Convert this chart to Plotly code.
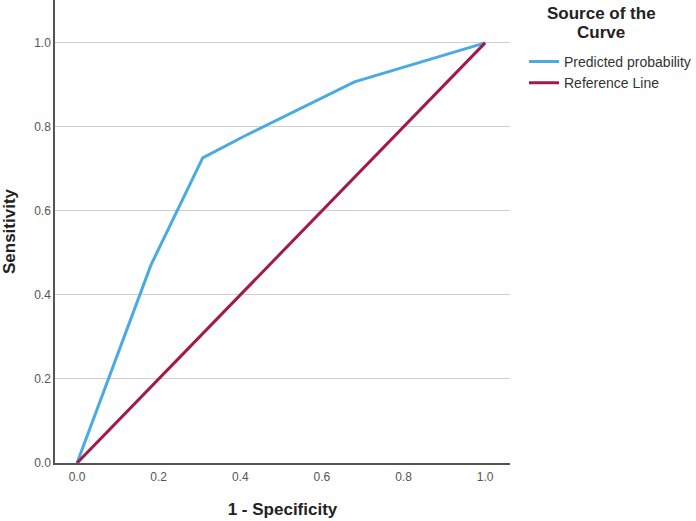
import plotly.graph_objects as go

# ROC data
fpr = [0.0, 0.181, 0.308, 0.406, 0.680, 1.0]
tpr = [0.0, 0.471, 0.726, 0.776, 0.907, 1.0]
ref_x = [0.0, 1.0]
ref_y = [0.0, 1.0]
tick_vals = [0.0, 0.2, 0.4, 0.6, 0.8, 1.0]
tick_text = ["0.0", "0.2", "0.4", "0.6", "0.8", "1.0"]

BLUE = "#4AAAE3"
RED = "#A21A4C"
FONT = "Arial, Liberation Sans, sans-serif"

fig = go.Figure()
fig.add_trace(go.Scatter(x=fpr, y=tpr, mode="lines", name="Predicted probability",
                         line=dict(color=BLUE, width=3)))
fig.add_trace(go.Scatter(x=ref_x, y=ref_y, mode="lines", name="Reference Line",
                         line=dict(color=RED, width=3)))

fig.update_layout(
    width=696, height=521,
    margin=dict(l=55, r=185, t=0, b=58),
    paper_bgcolor="white", plot_bgcolor="white",
    font=dict(family=FONT, color="#333"),
    showlegend=True,
    legend=dict(x=0.0307 + 1.0, y=0.901, xanchor="left", yanchor="top",
                font=dict(size=14, color="#333", family=FONT),
                tracegroupgap=0, itemwidth=30, bgcolor="rgba(0,0,0,0)"),
    xaxis=dict(range=[-0.054, 1.061], tickvals=tick_vals, ticktext=tick_text,
               showgrid=False, zeroline=False, showline=True, linecolor="#555",
               linewidth=1.5, ticks="", tickfont=dict(size=12, color="#555"),
               ticklabelstandoff=2,
               title=dict(text="<b>1 - Specificity</b>", font=dict(size=17, color="#222"),
                          standoff=20)),
    yaxis=dict(range=[0, 1.102], tickvals=tick_vals, ticktext=tick_text,
               showgrid=True, gridcolor="#CFCFCF", gridwidth=1.2, zeroline=False,
               showline=True, linecolor="#555", linewidth=1.5, ticks="",
               tickfont=dict(size=12, color="#555"),
               title=dict(text="<b>Sensitivity</b>", font=dict(size=17, color="#222"),
                          standoff=14)),
    annotations=[
        dict(text="<b>Source of the</b>", xref="paper", yref="paper",
             x=1.201, y=1 - 14 / 463, xanchor="center", yanchor="middle", showarrow=False,
             font=dict(size=17, color="#222", family=FONT)),
        dict(text="<b>Curve</b>", xref="paper", yref="paper",
             x=1.201, y=1 - 33 / 463, xanchor="center", yanchor="middle", showarrow=False,
             font=dict(size=17, color="#222", family=FONT)),
    ],
)

fig.write_html("out.html")
